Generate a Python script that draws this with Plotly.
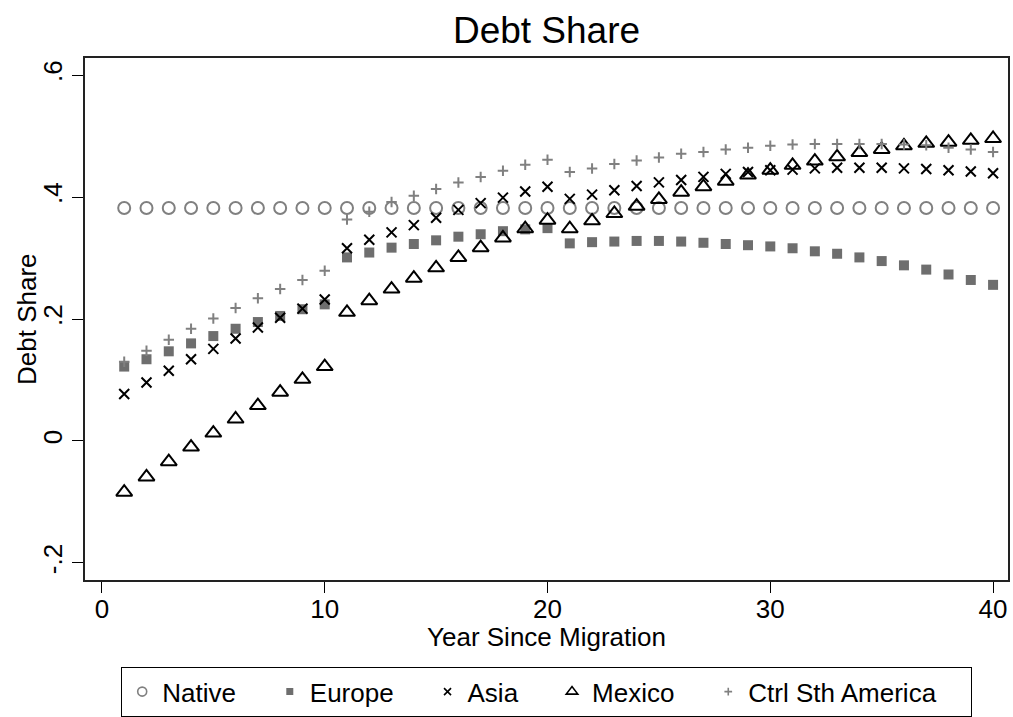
import plotly.graph_objects as go

# Debt share by years since migration, by origin group
years = list(range(1, 41))

native = [0.382, 0.382, 0.382, 0.382, 0.382, 0.382, 0.382, 0.382, 0.382, 0.382,
          0.382, 0.382, 0.382, 0.382, 0.382, 0.382, 0.382, 0.382, 0.382, 0.382,
          0.382, 0.382, 0.382, 0.382, 0.382, 0.382, 0.382, 0.382, 0.382, 0.382,
          0.382, 0.382, 0.382, 0.382, 0.382, 0.382, 0.382, 0.382, 0.382, 0.382]

europe = [0.122, 0.134, 0.147, 0.160, 0.172, 0.184, 0.195, 0.205, 0.216, 0.224,
          0.301, 0.309, 0.317, 0.323, 0.329, 0.335, 0.339, 0.344, 0.347, 0.349,
          0.324, 0.326, 0.327, 0.328, 0.328, 0.327, 0.325, 0.323, 0.321, 0.319,
          0.316, 0.311, 0.307, 0.301, 0.295, 0.288, 0.281, 0.273, 0.264, 0.256]

asia = [0.077, 0.096, 0.115, 0.134, 0.151, 0.168, 0.186, 0.202, 0.217, 0.232,
        0.316, 0.330, 0.342, 0.354, 0.366, 0.379, 0.390, 0.399, 0.409, 0.417,
        0.397, 0.404, 0.411, 0.418, 0.424, 0.428, 0.433, 0.438, 0.441, 0.444,
        0.445, 0.447, 0.448, 0.448, 0.448, 0.447, 0.446, 0.444, 0.442, 0.439]

mexico = [-0.084, -0.059, -0.034, -0.010, 0.013, 0.036, 0.058, 0.080, 0.101, 0.122,
          0.211, 0.230, 0.249, 0.267, 0.284, 0.301, 0.317, 0.333, 0.348, 0.362,
          0.348, 0.361, 0.373, 0.385, 0.396, 0.408, 0.417, 0.426, 0.436, 0.444,
          0.452, 0.459, 0.466, 0.473, 0.478, 0.484, 0.488, 0.490, 0.493, 0.496]

ctrl_sth_america = [0.130, 0.148, 0.166, 0.184, 0.201, 0.218, 0.234, 0.249, 0.264, 0.279,
                    0.363, 0.376, 0.392, 0.402, 0.413, 0.424, 0.433, 0.443, 0.453, 0.461,
                    0.441, 0.447, 0.454, 0.460, 0.465, 0.471, 0.474, 0.478, 0.481, 0.484,
                    0.486, 0.487, 0.487, 0.487, 0.487, 0.486, 0.485, 0.481, 0.478, 0.474]

group_names = ["Native", "Europe", "Asia", "Mexico", "Ctrl Sth America"]

y_tick_vals = [-0.2, 0, 0.2, 0.4, 0.6]
y_tick_text = ["-.2", "0", ".2", ".4", ".6"]
x_tick_vals = [0, 10, 20, 30, 40]

FONT = "Liberation Sans, Arial, sans-serif"
GRAY = "#808080"
DARK_GRAY = "#6e6e6e"

series = [native, europe, asia, mexico, ctrl_sth_america]

# marker styles for the plotted points and for the (smaller) legend keys
styles = [
    dict(symbol="circle-open", size=12, color=GRAY, line=dict(color=GRAY, width=2)),
    dict(symbol="square", size=10, color=DARK_GRAY, line=dict(width=0)),
    dict(symbol="x-thin-open", size=10, color="black", line=dict(color="black", width=2)),
    dict(symbol="triangle-up-open", size=14, color="black", line=dict(color="black", width=2)),
    dict(symbol="cross-thin-open", size=7.5, color=GRAY, line=dict(color=GRAY, width=2)),
]
legend_styles = [
    dict(symbol="circle-open", size=9, color=GRAY, line=dict(color=GRAY, width=1.6)),
    dict(symbol="square", size=7, color=DARK_GRAY, line=dict(width=0)),
    dict(symbol="x-thin-open", size=7, color="black", line=dict(color="black", width=1.6)),
    dict(symbol="triangle-up-open", size=10, color="black", line=dict(color="black", width=1.6)),
    dict(symbol="cross-thin-open", size=5.5, color=GRAY, line=dict(color=GRAY, width=1.6)),
]

fig = go.Figure()
for name, vals, st in zip(group_names, series, styles):
    fig.add_trace(go.Scatter(x=years, y=vals, mode="markers", name=name,
                             marker=st, showlegend=False))

pad = "\u00a0" * 4
for name, st in zip(group_names, legend_styles):
    fig.add_trace(go.Scatter(x=[None], y=[None], mode="markers", name=name + pad,
                             marker=st, showlegend=True))

fig.update_layout(
    width=1013, height=717,
    margin=dict(l=85, r=5, t=58, b=137, autoexpand=False),
    paper_bgcolor="white", plot_bgcolor="white",
    font=dict(family=FONT, color="black", size=26),
    title=dict(text="Debt Share", x=0.5, xref="paper", xanchor="center",
               y=1 - 30 / 717, yref="container", yanchor="middle",
               font=dict(size=37, family=FONT, color="black")),
    showlegend=True,
    legend=dict(orientation="h", x=0.5, xanchor="center", y=-0.1667, yanchor="top",
                bordercolor="black", borderwidth=1.2, bgcolor="white",
                font=dict(size=26, family=FONT), itemwidth=30,
                traceorder="normal"),
    annotations=[
        dict(text="Debt Share", textangle=-90, xref="paper", yref="paper",
             x=-(85 - 27) / 923, y=0.5, xanchor="center", yanchor="middle",
             showarrow=False, font=dict(size=26, family=FONT, color="black")),
        dict(text="Year Since Migration", xref="paper", yref="paper",
             x=0.5, y=-(637 - 580) / 522, xanchor="center", yanchor="middle",
             showarrow=False, font=dict(size=26, family=FONT, color="black")),
    ],
)

fig.update_xaxes(
    range=[-0.76, 40.67], tickvals=x_tick_vals, ticks="outside", ticklen=11,
    tickwidth=1.2, tickcolor="black", showgrid=False, zeroline=False,
    showline=True, linecolor="#222", linewidth=1.5, mirror=True,
    tickfont=dict(size=26), ticklabelstandoff=-6,
)
fig.update_yaxes(
    range=[-0.228, 0.628], tickvals=y_tick_vals, ticktext=y_tick_text,
    ticks="outside", ticklen=11, tickwidth=1.2, tickcolor="black",
    tickangle=-90, showgrid=False, zeroline=False,
    showline=True, linecolor="#222", linewidth=1.5, mirror=True,
    tickfont=dict(size=26),
)

fig.write_html("out.html")
